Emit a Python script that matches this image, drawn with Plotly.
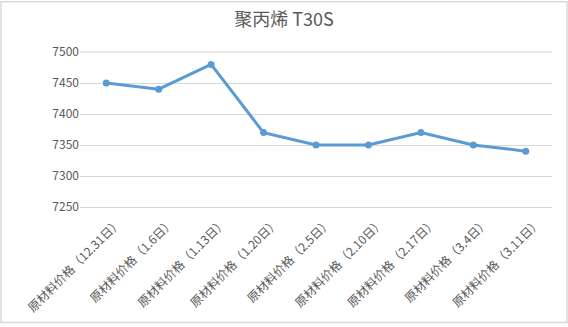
import plotly.graph_objects as go

categories = ["原材料价格（12.31日）", "原材料价格（1.6日）", "原材料价格（1.13日）",
              "原材料价格（1.20日）", "原材料价格（2.5日）", "原材料价格（2.10日）",
              "原材料价格（2.17日）", "原材料价格（3.4日）", "原材料价格（3.11日）"]
values = [7450, 7440, 7480, 7370, 7350, 7350, 7370, 7350, 7340]
y_ticks = [7250, 7300, 7350, 7400, 7450, 7500]
title_text = "聚丙烯 T30S"

FONT = "Noto Sans CJK SC, Microsoft YaHei, sans-serif"
GRID = "#d9d9d9"
TXT = "#595959"

fig = go.Figure()
fig.add_trace(go.Scatter(
    x=list(range(len(categories))), y=values, mode="lines+markers",
    line=dict(color="#5b9bd5", width=3),
    marker=dict(color="#5b9bd5", size=7),
    hoverinfo="skip", showlegend=False,
))

fig.update_layout(
    width=568, height=327,
    margin=dict(l=80, r=16, t=52, b=118),
    paper_bgcolor="white", plot_bgcolor="white",
    title=dict(text=title_text, x=0.5, xanchor="center", y=1 - 20/327, yanchor="middle",
               font=dict(family=FONT, size=18, color=TXT)),
    font=dict(family=FONT, color=TXT, size=12),
    xaxis=dict(
        tickmode="array", tickvals=list(range(len(categories))), ticktext=categories,
        range=[-0.5, len(categories) - 0.5], tickangle=-45,
        showgrid=False, zeroline=False, showline=True, linecolor=GRID, linewidth=1,
        ticks="", ticklabelshift=12, ticklabelstandoff=3,
        tickfont=dict(family=FONT, size=12, color=TXT),
    ),
    yaxis=dict(
        range=[7250, 7500], tickvals=y_ticks, showgrid=True, gridcolor=GRID, gridwidth=1,
        zeroline=False, showline=False, ticks="", ticklen=0,
        tickfont=dict(family=FONT, size=12, color=TXT),
    ),
    shapes=[dict(type="rect", xref="paper", yref="paper",
                 x0=-79/472, x1=1 + 15/472, y0=-117/157, y1=1 + 51/157,
                 line=dict(color=GRID, width=1.5), fillcolor="rgba(0,0,0,0)", layer="below"),
            dict(type="line", xref="paper", yref="paper", x0=0, x1=1, y0=1, y1=1,
                 line=dict(color=GRID, width=1), layer="below")],
)

fig.write_html("out.html")
